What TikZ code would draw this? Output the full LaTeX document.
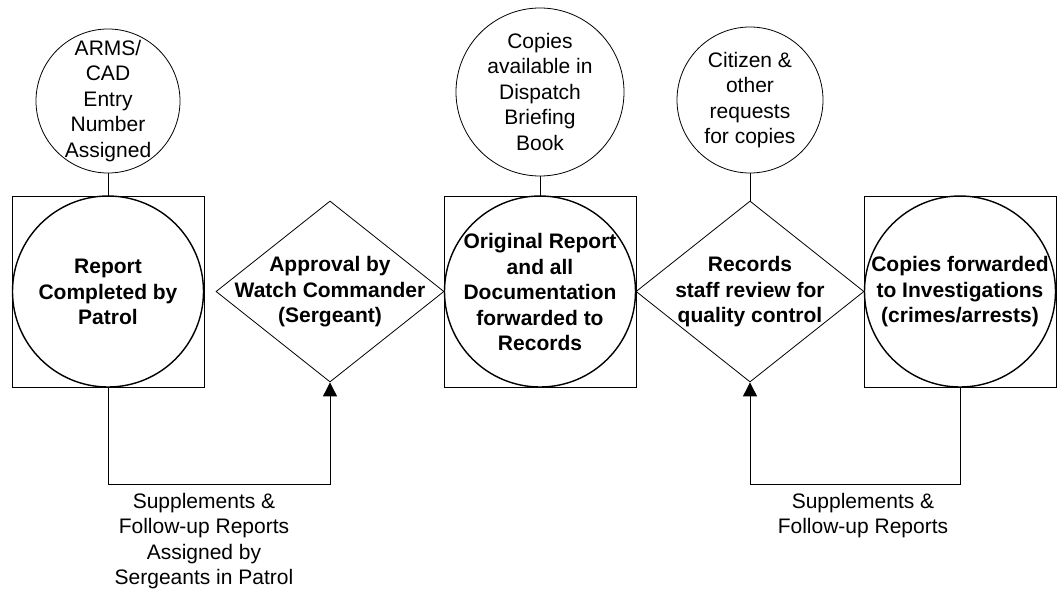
\documentclass[tikz,border=0pt]{standalone}
\usepackage{fontspec}
\setmainfont{Liberation Sans}
\usetikzlibrary{shapes.geometric,arrows.meta}
\begin{document}
\begin{tikzpicture}[x=1pt,y=-1pt,
  txt/.style={align=center,inner sep=0pt,font=\fontsize{21}{25.5}\selectfont},
  btxt/.style={txt,font=\fontsize{21}{25.5}\selectfont\bfseries},
  sq/.style={draw,line width=0.9pt,rectangle,minimum width=192pt,minimum height=191pt,inner sep=0pt},
  bigc/.style={draw,line width=1.4pt,circle,minimum size=191pt,inner sep=0pt},
  smc/.style={draw,line width=0.8pt,circle,inner sep=0pt},
  dia/.style={draw,line width=0.8pt,diamond,minimum width=228pt,minimum height=181pt,inner sep=0pt},
  conn/.style={draw,line width=0.9pt},
  arr/.style={conn,-{Triangle[width=14pt,length=14pt]}}
]
\useasboundingbox (0,0) rectangle (1061,591);
% small circles
\node[smc,minimum size=144pt] (t1) at (108,101) {};
\node[txt] at (108,101) {ARMS/\\CAD\\Entry\\Number\\Assigned};
\node[smc,minimum size=168pt] (t2) at (540,92) {};
\node[txt] at (540,91.5) {Copies\\available in\\Dispatch\\Briefing\\Book};
\node[smc,minimum size=146pt] (t3) at (750,100) {};
\node[txt] at (750,100) {Citizen \&\\other\\requests\\for copies};
% main row
\node[sq] (s1) at (108,291.5) {};
\node[bigc] (c1) at (108,291.5) {};
\node[btxt] at (108,292) {Report\\Completed by\\Patrol};
\node[dia] (d1) at (330,291.5) {};
\node[btxt] at (330,292) {Approval by\\Watch Commander\\(Sergeant)};
\node[sq] (s2) at (540,291.5) {};
\node[bigc] (c2) at (540,291.5) {};
\node[btxt] at (540,292) {Original Report\\and all\\Documentation\\forwarded to\\Records};
\node[dia] (d2) at (750,291.5) {};
\node[btxt] at (750,292) {Records\\staff review for\\quality control};
\node[sq] (s3) at (960,291.5) {};
\node[bigc] (c3) at (960,291.5) {};
\node[btxt] at (960,292) {Copies forwarded\\to Investigations\\(crimes/arrests)};
% connectors to small circles
\draw[conn] (t1.south) -- (s1.north);
\draw[conn] (t2.south) -- (s2.north);
\draw[conn] (t3.south) -- (d2.north);
% feedback loops
\coordinate (b1) at (108,484);
\coordinate (b2) at (960,484);
\draw[arr] (s1.south) -- (b1) -| (d1.south);
\draw[arr] (s3.south) -- (b2) -| (d2.south);
\node[txt,anchor=north] (l1) at (204,493) {Supplements \&\\Follow-up Reports\\Assigned by\\Sergeants in Patrol};
\node[txt,anchor=north] (l2) at (863,493) {Supplements \&\\Follow-up Reports};
\end{tikzpicture}
\end{document}
